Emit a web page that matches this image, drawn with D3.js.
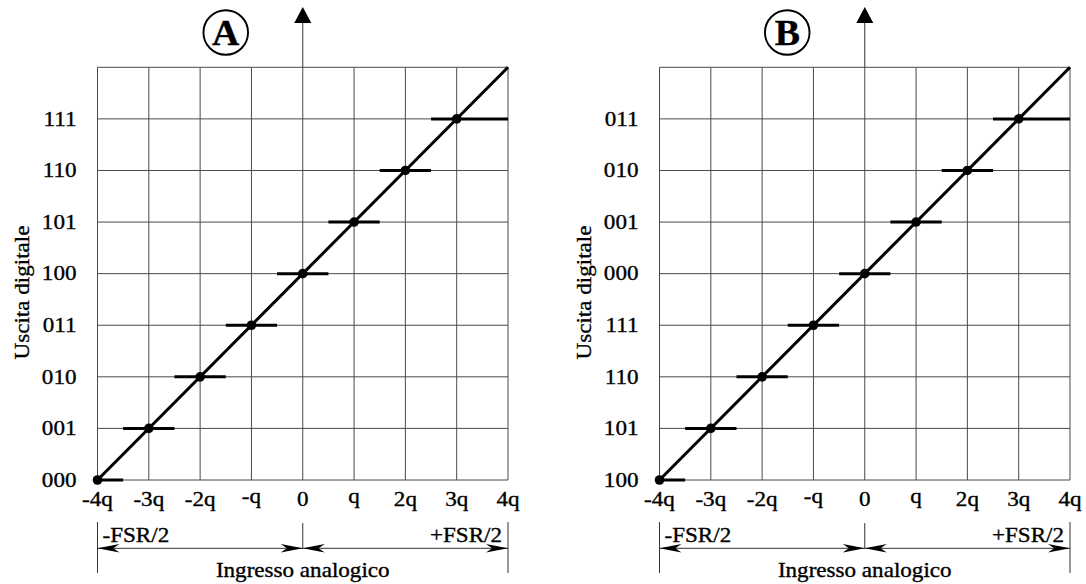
<!DOCTYPE html>
<html>
<head>
<meta charset="utf-8">
<script src="https://cdn.jsdelivr.net/npm/d3@7"></script>
<style>
body { margin: 0; background: #fff; }
svg { display: block; }
text { font-family: "Liberation Serif", "Times New Roman", serif; fill: #000; stroke: #000; stroke-width: 0.35px; }
</style>
</head>
<body>
<svg id="chart" width="1086" height="584"></svg>
<script>
var inputSteps = [-4, -3, -2, -1, 0, 1, 2, 3, 4]
var inputLabels = ["-4q", "-3q", "-2q", "-q", "0", "q", "2q", "3q", "4q"]
var codeLevels = [0, 1, 2, 3, 4, 5, 6, 7]
var codesA = ["000", "001", "010", "011", "100", "101", "110", "111"]
var codesB = ["100", "101", "110", "111", "000", "001", "010", "011"]
var pointInput = [-4, -3, -2, -1, 0, 1, 2, 3]
var pointCode = [0, 1, 2, 3, 4, 5, 6, 7]
var stepStart = [-4, -3.5, -2.5, -1.5, -0.5, 0.5, 1.5, 2.5]
var stepEnd = [-3.5, -2.5, -1.5, -0.5, 0.5, 1.5, 2.5, 4]
var idealInput = [-4, 4]
var idealCode = [0, 8]
var panelTitles = ["A", "B"]
var yTitle = "Uscita digitale"
var xTitle = "Ingresso analogico"

var svg = d3.select('#chart')
var STRETCH = 1.1
var FS = 21

function stext(g, x, y, str, anchor, size, weight) {
  return g.append('text')
    .attr('transform', 'translate(' + x + ',' + y + ') scale(' + STRETCH + ',1)')
    .attr('text-anchor', anchor)
    .style('font-size', (size || FS) + 'px')
    .style('font-weight', weight || 'normal')
    .text(str)
}

function arrowHead(g, x, y, dir) {
  var L = 22, w = 4.3
  g.append('path')
    .attr('d', 'M' + x + ',' + y +
      'L' + (x - dir * L) + ',' + (y - w) +
      'L' + (x - dir * L * 0.72) + ',' + y +
      'L' + (x - dir * L) + ',' + (y + w) + 'Z')
    .attr('fill', '#000')
}

function drawPanel(off, title, codes, titleDx) {
  var g = svg.append('g')
  var x = d3.scaleLinear().domain([-4, 4]).range([97.5 + off, 508 + off])
  var y = d3.scaleLinear().domain([0, 8]).range([480, 67.3])

  // grid
  g.selectAll('.vgrid').data(inputSteps).enter().append('line')
    .attr('x1', function (d) { return x(d) }).attr('x2', function (d) { return x(d) })
    .attr('y1', y(0)).attr('y2', y(8))
    .attr('stroke', '#4a4a4a').attr('stroke-width', 1)
  g.selectAll('.hgrid').data(codeLevels.concat([8])).enter().append('line')
    .attr('x1', x(-4)).attr('x2', x(4))
    .attr('y1', function (d) { return y(d) }).attr('y2', function (d) { return y(d) })
    .attr('stroke', '#4a4a4a').attr('stroke-width', 1)

  // vertical axis with arrow
  g.append('line')
    .attr('x1', x(0)).attr('x2', x(0)).attr('y1', y(8)).attr('y2', 20)
    .attr('stroke', '#333').attr('stroke-width', 1)
  g.append('path')
    .attr('d', 'M' + x(0) + ',7L' + (x(0) - 8.5) + ',23L' + (x(0) + 8.5) + ',23Z')
    .attr('fill', '#000')

  // title circle
  var cx = x(0) + titleDx
  g.append('circle').attr('cx', cx).attr('cy', 32.5).attr('r', 22.3)
    .attr('fill', 'none').attr('stroke', '#000').attr('stroke-width', 1.9)
  g.append('text')
    .attr('transform', 'translate(' + cx + ',45) scale(1.05,1)')
    .attr('text-anchor', 'middle')
    .style('font-size', '36px').style('font-weight', 'bold')
    .text(title)

  // ideal line
  g.append('path')
    .attr('d', d3.line()
      .x(function (d, i) { return x(idealInput[i]) })
      .y(function (d, i) { return y(idealCode[i]) })(idealInput))
    .attr('fill', 'none').attr('stroke', '#000').attr('stroke-width', 3)

  // quantization steps
  g.selectAll('.step').data(stepStart).enter().append('line')
    .attr('x1', function (d) { return x(d) })
    .attr('x2', function (d, i) { return x(stepEnd[i]) })
    .attr('y1', function (d, i) { return y(pointCode[i]) })
    .attr('y2', function (d, i) { return y(pointCode[i]) })
    .attr('stroke', '#000').attr('stroke-width', 3)

  g.selectAll('.dot').data(pointInput).enter().append('circle')
    .attr('cx', function (d) { return x(d) })
    .attr('cy', function (d, i) { return y(pointCode[i]) })
    .attr('r', 4.8).attr('fill', '#000')

  // tick labels (the lone q ones sit a little higher in the original)
  inputSteps.forEach(function (d, i) {
    var lift = (d === 1 || d === -1) ? 3 : 0
    stext(g, x(d), 506 - lift, inputLabels[i], 'middle')
  })
  codeLevels.forEach(function (d, i) {
    stext(g, x(-4) - 21, y(d) + 6.7, codes[i], 'end')
  })

  // axis titles
  g.append('text')
    .attr('transform', 'translate(' + (28.5 + off) + ',' + 292.5 + ') rotate(-90) scale(' + STRETCH + ',1)')
    .attr('text-anchor', 'middle')
    .style('font-size', FS + 'px')
    .text(yTitle)
  stext(g, x(0), 576.5, xTitle, 'middle')

  // FSR range arrows
  var ay = 548.3
  g.append('line').attr('x1', x(-4)).attr('x2', x(-4)).attr('y1', 522).attr('y2', 573)
    .attr('stroke', '#333').attr('stroke-width', 1)
  g.append('line').attr('x1', x(4)).attr('x2', x(4)).attr('y1', 522).attr('y2', 573)
    .attr('stroke', '#333').attr('stroke-width', 1)
  g.append('line').attr('x1', x(0)).attr('x2', x(0)).attr('y1', 523).attr('y2', ay)
    .attr('stroke', '#333').attr('stroke-width', 1)
  g.append('line').attr('x1', x(-4)).attr('x2', x(4)).attr('y1', ay).attr('y2', ay)
    .attr('stroke', '#333').attr('stroke-width', 1)
  arrowHead(g, x(-4), ay, -1)
  arrowHead(g, x(0), ay, 1)
  arrowHead(g, x(0), ay, -1)
  arrowHead(g, x(4), ay, 1)
  stext(g, x(-4) + 5, 541.7, '-FSR/2', 'start')
  stext(g, x(4) - 6, 541.7, '+FSR/2', 'end')
}

drawPanel(0, panelTitles[0], codesA, -77)
drawPanel(562, panelTitles[1], codesB, -77.5)
</script>
</body>
</html>
